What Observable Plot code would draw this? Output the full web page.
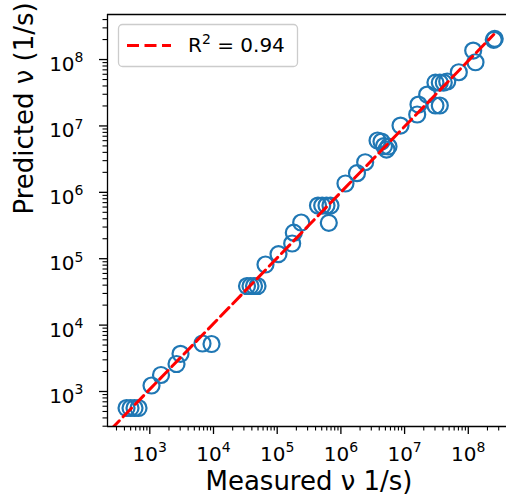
<!DOCTYPE html>
<html>
<head>
<meta charset="utf-8">
<script src="https://cdn.jsdelivr.net/npm/d3@7"></script>
<script src="https://cdn.jsdelivr.net/npm/@observablehq/plot@0.6"></script>
<style>
  html, body { margin: 0; padding: 0; background: white; }
</style>
</head>
<body>
<script>
// Measured vs predicted rates (1/s)
const measured = [431, 498, 575, 665, 1064, 1499, 2626, 3034, 6717, 9305,
  33570, 38100, 43250, 49080, 65500, 104800, 171900, 182300, 238200,
  436700, 508500, 594000, 686700, 645700, 1.18e6, 1.79e6, 2.405e6,
  3.76e6, 4.34e6, 4.75e6, 5.2e6, 5.59e6, 8.63e6, 1.578e7, 1.652e7, 2.264e7,
  3.05e7, 3.57e7, 4.12e7, 4.67e7, 3.05e7, 3.57e7, 7.1e7, 1.194e8, 1.297e8, 2.51e8, 2.6e8];
const predicted = [564, 564, 564, 564, 1231, 1773, 2595, 3697, 5284, 5191,
  38800, 38800, 38800, 38800, 81800, 117300, 169400, 246400, 350900,
  632500, 632500, 632500, 632500, 347300, 1.358e6, 1.94e6, 2.84e6,
  6.03e6, 5.82e6, 4.98e6, 4.41e6, 4.9e6, 1.014e7, 1.486e7, 2.1e7, 2.97e7,
  4.5e7, 4.5e7, 4.5e7, 4.67e7, 2.03e7, 2.03e7, 6.44e7, 1.367e8, 9.1e7, 1.98e8, 2.05e8];

// Fit line end points
const fitX = [158, 2.51e8];
const fitY = [174, 2.38e8];

const legendLabel = "0.94";
const xLabel = "Measured ν 1/s)";
const yLabel = "Predicted ν (1/s)";

const majorTicks = [1e3, 1e4, 1e5, 1e6, 1e7, 1e8];
const xDomain = [216.7, 3.98e8];
const yDomain = [297, 4.77e8];

const minorTicks = [];
for (let k = 2; k <= 8; k++) for (let m = 2; m <= 9; m++) minorTicks.push(m * Math.pow(10, k));
const minorX = minorTicks.filter(v => v >= xDomain[0] && v <= xDomain[1]);
const minorY = minorTicks.filter(v => v >= yDomain[0] && v <= yDomain[1]);

const points = measured.map((m, i) => ({m, p: predicted[i]}));
const fit = fitX.map((x, i) => ({x, y: fitY[i]}));

const fmt = d => "10^" + Math.round(Math.log10(d));

const svg = Plot.plot({
  width: 506,
  height: 501,
  marginLeft: 107,
  marginRight: 0,
  marginTop: 14,
  marginBottom: 75,
  style: {fontFamily: "DejaVu Sans", background: "white", color: "black"},
  x: {type: "log", domain: xDomain},
  y: {type: "log", domain: yDomain},
  marks: [
    Plot.dot(points, {x: "m", y: "p", r: 8, stroke: "#1f77b4", strokeWidth: 2.2, fill: "none"}),
    Plot.line(fit, {x: "x", y: "y", stroke: "red", strokeWidth: 3, strokeDasharray: "12,5.5", clip: true}),
    Plot.axisX({ticks: majorTicks, tickSize: 8, tickPadding: 12, tickFormat: fmt, fontSize: 20, label: null, strokeWidth: 1.3}),
    Plot.axisX({ticks: minorX, tickSize: 4.5, tickFormat: () => "", label: null, strokeWidth: 1.1}),
    Plot.axisY({ticks: majorTicks, tickSize: 8, tickPadding: 16, tickFormat: fmt, fontSize: 20, label: null, strokeWidth: 1.3}),
    Plot.axisY({ticks: minorY, tickSize: 4.5, tickFormat: () => "", label: null, strokeWidth: 1.1}),
    Plot.ruleX([xDomain[0]], {stroke: "black", strokeWidth: 1.3}),
    Plot.ruleY([yDomain[0]], {stroke: "black", strokeWidth: 1.3}),
    Plot.ruleY([yDomain[1]], {stroke: "black", strokeWidth: 1.3}),
    Plot.text([xLabel], {frameAnchor: "bottom", dy: 63, dx: 2, fontSize: 26, fill: "black"}),
    Plot.text([yLabel], {frameAnchor: "left", dx: -83, dy: -6, rotate: -90, fontSize: 26, fill: "black"})
  ]
});

document.body.append(svg);

// Superscript exponents in tick labels
const sel = d3.select(svg);
sel.selectAll('g[aria-label="x-axis tick label"] text, g[aria-label="y-axis tick label"] text').each(function () {
  const t = d3.select(this);
  const s = t.text();
  const mm = /^10\^(\d+)$/.exec(s);
  if (!mm) return;
  const isY = this.closest('g[aria-label="y-axis tick label"]') != null;
  t.text("");
  t.append("tspan").attr("dy", isY ? 5 : 0).text("10");
  t.append("tspan").attr("dy", -8.5).attr("font-size", 14).text(mm[1]);
});

// Legend
const lg = sel.append("g").attr("font-family", "DejaVu Sans");
lg.append("rect").attr("x", 118.5).attr("y", 24.5).attr("width", 179).attr("height", 42).attr("rx", 4)
  .attr("fill", "white").attr("fill-opacity", 0.8).attr("stroke", "#cccccc").attr("stroke-width", 1.3);
lg.append("line").attr("x1", 127).attr("x2", 171).attr("y1", 45.5).attr("y2", 45.5)
  .attr("stroke", "red").attr("stroke-width", 3).attr("stroke-dasharray", "12,5.5");
const lt = lg.append("text").attr("x", 188).attr("y", 52).attr("font-size", 20)
  .attr("fill", "black").attr("text-anchor", "start");
lt.append("tspan").text("R");
lt.append("tspan").attr("font-size", 14).attr("dy", -8.5).text("2");
lt.append("tspan").attr("dy", 8.5).text(" = " + legendLabel);
</script>
</body>
</html>
